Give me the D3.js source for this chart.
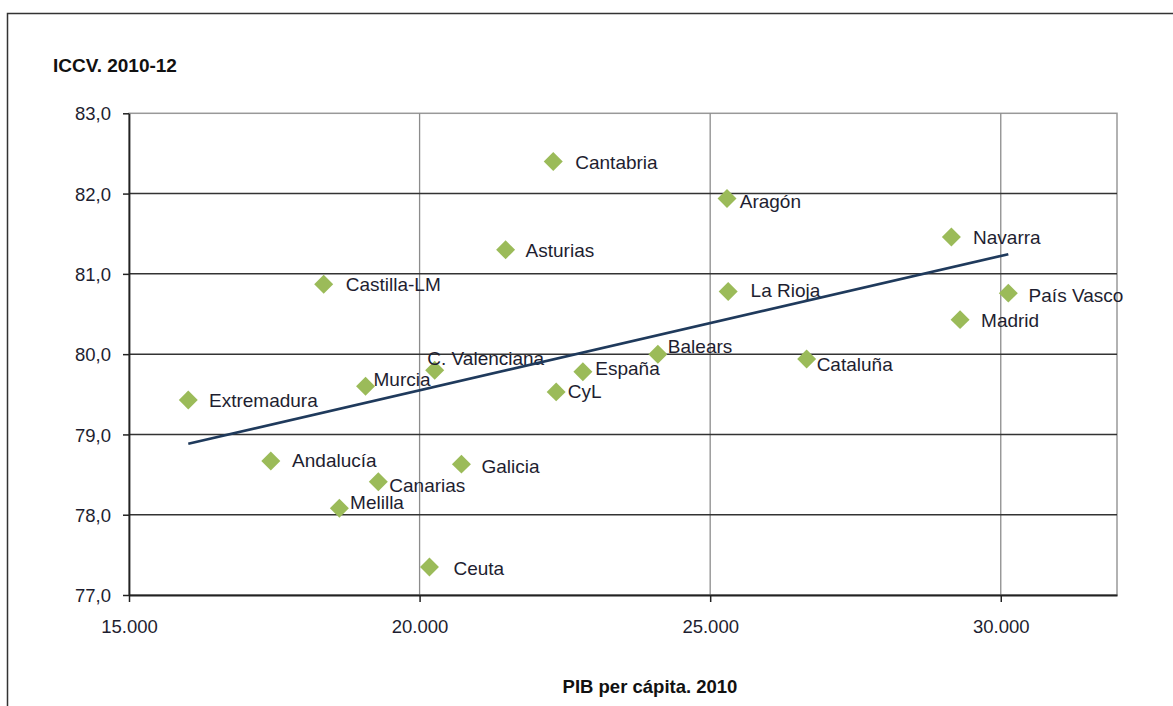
<!DOCTYPE html>
<html>
<head>
<meta charset="utf-8">
<script src="https://cdn.jsdelivr.net/npm/d3@7"></script>
<style>
  body { margin: 0; background: #fff; }
  text { font-family: "Liberation Sans", Arial, sans-serif; }
</style>
</head>
<body>
<div id="graph-container"></div>
<script>

/////////////////////////////////////////////////////////////////////////////
                      ///////    Data    ///////
/////////////////////////////////////////////////////////////////////////////

var region_names = ['Cantabria', 'Aragón', 'Asturias', 'Navarra', 'Castilla-LM', 'La Rioja',
                    'País Vasco', 'Madrid', 'Balears', 'Cataluña', 'C. Valenciana', 'España',
                    'Murcia', 'CyL', 'Extremadura', 'Andalucía', 'Galicia', 'Canarias', 'Melilla', 'Ceuta'];

var pib_per_capita = [22300, 25290, 21480, 29150, 18350, 25310,
                      30130, 29300, 24100, 26660, 20260, 22810,
                      19070, 22350, 16020, 17440, 20720, 19290, 18620, 20170];

var iccv_values = [82.40, 81.94, 81.30, 81.46, 80.87, 80.78,
                   80.76, 80.43, 80.00, 79.94, 79.80, 79.78,
                   79.60, 79.53, 79.43, 78.67, 78.63, 78.41, 78.08, 77.35];

var x_ticks = [15000, 20000, 25000, 30000];
var y_ticks = [77, 78, 79, 80, 81, 82, 83];

var x_title = 'PIB per cápita. 2010';
var y_title = 'ICCV. 2010-12';

// where each data label sits relative to its marker (dx, dy of baseline)
var label_offsets = {
    'Cantabria': [22, 7.6], 'Aragón': [12.7, 10], 'Asturias': [20, 7.3], 'Navarra': [21.7, 6.6],
    'Castilla-LM': [22, 6.7], 'La Rioja': [22.4, 5.6], 'País Vasco': [20.3, 8.4], 'Madrid': [21, 7.3],
    'Balears': [10, -1], 'Cataluña': [10, 11.7], 'C. Valenciana': [-7.4, -5], 'España': [12.4, 3.3],
    'Murcia': [8, -0.7], 'CyL': [11.7, 6.6], 'Extremadura': [20.7, 6.7], 'Andalucía': [21.3, 6.3],
    'Galicia': [20, 8.4], 'Canarias': [11, 10.3], 'Melilla': [10.7, 0.6], 'Ceuta': [24, 8.3]
};

/////////////////////////////////////////////////////////////////////////////
                      ///////    Set Up Chart    ///////
/////////////////////////////////////////////////////////////////////////////

var width = 1173, height = 706;
var plot = {left: 129, right: 1117, top: 113.3, bottom: 595};

var text_color = '#1e1e30';
var marker_color = '#9bbb59';

var es = d3.formatLocale({decimal: ',', thousands: '.', grouping: [3], currency: ['', '€']});

var svg = d3.select('#graph-container').append('svg')
            .attr('width', width).attr('height', height);

// outer chart frame (runs off the picture to the right and bottom)
svg.append('rect')
   .attr('x', 7.5).attr('y', 13.5)
   .attr('width', width + 20).attr('height', height + 20)
   .style('fill', 'none').style('stroke', '#333').style('stroke-width', 1.5);

var x = d3.scaleLinear().domain([15000, 32000]).range([plot.left, plot.right]);
var y = d3.scaleLinear().domain([77, 83]).range([plot.bottom, plot.top]);

var data = region_names.map((name, i) => ({name: name, pib: pib_per_capita[i], iccv: iccv_values[i]}));

// plot area border (top and right are light)
svg.append('rect')
   .attr('x', plot.left).attr('y', plot.top)
   .attr('width', plot.right - plot.left).attr('height', plot.bottom - plot.top)
   .style('fill', 'none').style('stroke', '#999').style('stroke-width', 1.5);

// vertical grid lines
svg.append('g')
   .selectAll('line').data(x_ticks.slice(1)).enter()
   .append('line')
   .attr('x1', d => x(d)).attr('x2', d => x(d))
   .attr('y1', plot.top).attr('y2', plot.bottom)
   .style('stroke', '#8c8c8c').style('stroke-width', 1.3);

// horizontal grid lines
svg.append('g')
   .selectAll('line').data(y_ticks.slice(1, -1)).enter()
   .append('line')
   .attr('x1', plot.left).attr('x2', plot.right)
   .attr('y1', d => y(d)).attr('y2', d => y(d))
   .style('stroke', '#333').style('stroke-width', 1.5);

// axes
var x_axis = d3.axisBottom(x).tickValues(x_ticks).tickSize(7).tickSizeOuter(0).tickFormat(es.format(',d'));
var y_axis = d3.axisLeft(y).tickValues(y_ticks).tickSize(6).tickSizeOuter(0).tickFormat(es.format('.1f'));

var gx = svg.append('g').attr('transform', `translate(0,${plot.bottom})`).call(x_axis);
var gy = svg.append('g').attr('transform', `translate(${plot.left},0)`).call(y_axis);

[gx, gy].forEach(g => {
    g.select('.domain').style('stroke', '#222').style('stroke-width', 1.8);
    g.selectAll('.tick line').style('stroke', '#222').style('stroke-width', 1.5);
    g.selectAll('.tick text').style('fill', text_color).style('font-size', '18.5px')
     .style('font-family', '"Liberation Sans", Arial, sans-serif');
});
gx.selectAll('.tick text').attr('y', 0).attr('dy', 0).attr('transform', 'translate(0,38)');
gy.selectAll('.tick text').attr('x', -18).attr('dy', '0.36em');

// axis titles
svg.append('text')
   .attr('x', 53).attr('y', 72)
   .style('font-weight', 'bold').style('font-size', '19px')
   .style('fill', '#111')
   .text(y_title);

svg.append('text')
   .attr('x', 650).attr('y', 693)
   .style('text-anchor', 'middle')
   .style('font-weight', 'bold').style('font-size', '18.5px')
   .style('fill', '#111')
   .text(x_title);

/////////////////////////////////////////////////////////////////////////////
                      ///////    Points & Labels    ///////
/////////////////////////////////////////////////////////////////////////////

var diamond = d3.symbol().type(d3.symbolSquare).size(180);

svg.append('g')
   .selectAll('path').data(data).enter()
   .append('path')
   .attr('d', diamond)
   .attr('transform', d => `translate(${x(d.pib)},${y(d.iccv)}) rotate(45)`)
   .style('fill', marker_color);

svg.append('g')
   .selectAll('text').data(data).enter()
   .append('text')
   .attr('x', d => x(d.pib) + label_offsets[d.name][0])
   .attr('y', d => y(d.iccv) + label_offsets[d.name][1])
   .style('font-size', '19px')
   .style('fill', text_color)
   .text(d => d.name);

// linear trend line (least squares over all points)
var mean_x = d3.mean(data, d => d.pib);
var mean_y = d3.mean(data, d => d.iccv);
var slope = d3.sum(data, d => (d.pib - mean_x) * (d.iccv - mean_y)) / d3.sum(data, d => (d.pib - mean_x) ** 2);
var intercept = mean_y - slope * mean_x;
var trend_ends = d3.extent(data, d => d.pib);

svg.append('line')
   .attr('x1', x(trend_ends[0])).attr('y1', y(intercept + slope * trend_ends[0]))
   .attr('x2', x(trend_ends[1])).attr('y2', y(intercept + slope * trend_ends[1]))
   .style('stroke', '#1f3a5c').style('stroke-width', 2.6);

</script>
</body>
</html>
